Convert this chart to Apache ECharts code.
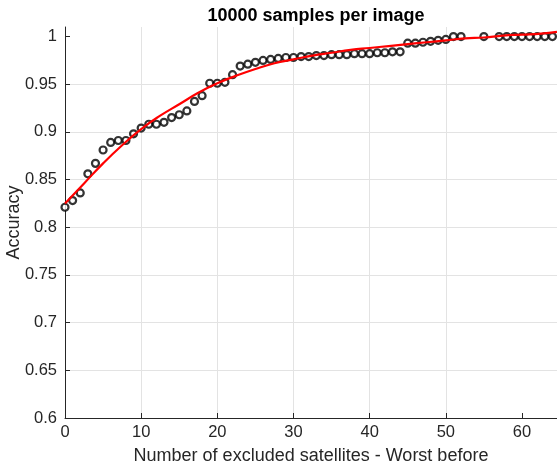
<!DOCTYPE html>
<html>
<head>
<meta charset="utf-8">
<script src="https://cdn.jsdelivr.net/npm/echarts@6/dist/echarts.min.js"></script>
<style>
  html, body { margin: 0; padding: 0; background: #fff; }
  #chart { width: 557px; height: 470px; }
</style>
</head>
<body>
<div id="chart"></div>
<script>
// measured accuracy per number of excluded satellites
var sampleX = [0, 1, 2, 3, 4, 5, 6, 7, 8, 9, 10, 11, 12, 13, 14, 15, 16, 17, 18, 19,
  20, 21, 22, 23, 24, 25, 26, 27, 28, 29, 30, 31, 32, 33, 34, 35, 36, 37, 38, 39,
  40, 41, 42, 43, 44, 45, 46, 47, 48, 49, 50, 51, 52, 55, 57, 58, 59, 60, 61, 62, 63, 64];
var accuracy = [0.821, 0.828, 0.836, 0.856, 0.867, 0.881, 0.889, 0.891, 0.891, 0.898,
  0.904, 0.908, 0.908, 0.910, 0.915, 0.918, 0.922, 0.932, 0.938, 0.951,
  0.951, 0.952, 0.960, 0.969, 0.971, 0.973, 0.975, 0.976, 0.977, 0.978,
  0.978, 0.979, 0.979, 0.980, 0.980, 0.981, 0.981, 0.981, 0.982, 0.982,
  0.982, 0.983, 0.983, 0.984, 0.984, 0.993, 0.993, 0.994, 0.995, 0.996,
  0.997, 1.000, 1.000, 1.000, 1.000, 1.000, 1.000, 1.000, 1.000, 1.000, 1.000, 1.000];

// fitted curve
var fitX = [0, 2.5, 5, 7.5, 10, 12.5, 15, 17.5, 20, 22.5, 25, 27.5, 30, 32.5, 35,
  37.5, 40, 42.5, 45, 47.5, 50, 52.5, 55, 57.5, 60, 62.5, 64.6];
var fitY = [0.825, 0.846, 0.867, 0.886, 0.903, 0.917, 0.929, 0.941, 0.951, 0.959,
  0.966, 0.972, 0.976, 0.980, 0.983, 0.986, 0.988, 0.990, 0.992, 0.994,
  0.996, 0.998, 0.999, 1.001, 1.002, 1.003, 1.005];

var xTicks = [0, 10, 20, 30, 40, 50, 60];
var yTicks = [0.6, 0.65, 0.7, 0.75, 0.8, 0.85, 0.9, 0.95, 1];

var chart = echarts.init(document.getElementById("chart"));
var font = "Liberation Sans, Arial, Helvetica, sans-serif";
var ink = "#262626";

chart.setOption({
  animation: false,
  backgroundColor: "#fff",
  title: {
    text: "10000 samples per image",
    left: 311,
    top: 2,
    textAlign: "center",
    textStyle: { fontFamily: font, fontSize: 18, fontWeight: "bold", color: "#000" }
  },
  grid: { left: 65, right: 0, top: 27, bottom: 52, outerBoundsMode: "none" },
  xAxis: {
    type: "value",
    min: 0,
    max: 64.6,
    interval: 10,
    name: "Number of excluded satellites - Worst before",
    nameLocation: "middle",
    nameGap: 29,
    nameTextStyle: { fontFamily: font, fontSize: 18, color: ink },
    axisLine: { lineStyle: { color: ink, width: 1 } },
    axisTick: { inside: true, length: 5, customValues: xTicks, lineStyle: { color: ink } },
    axisLabel: { customValues: xTicks, fontFamily: font, fontSize: 16.5, color: ink, margin: 6 },
    splitLine: { show: true, showMinLine: false, showMaxLine: false, lineStyle: { color: "#e3e3e3" } }
  },
  yAxis: {
    type: "value",
    min: 0.6,
    max: 1.01,
    interval: 0.05,
    name: "Accuracy",
    nameLocation: "middle",
    nameGap: 42,
    nameMoveOverlap: false,
    nameTextStyle: { fontFamily: font, fontSize: 18, color: ink },
    axisLine: { show: true, lineStyle: { color: ink, width: 1 } },
    axisTick: { show: true, inside: true, length: 5, customValues: yTicks, lineStyle: { color: ink } },
    axisLabel: { customValues: yTicks, fontFamily: font, fontSize: 16.5, color: ink, margin: 8 },
    splitLine: { show: true, showMinLine: false, showMaxLine: false, lineStyle: { color: "#e3e3e3" } }
  },
  series: [
    {
      type: "scatter",
      data: sampleX.map(function (x, i) { return [x, accuracy[i]]; }),
      symbol: "circle",
      symbolSize: 7,
      itemStyle: { color: "#fff", borderColor: "#000", borderWidth: 2.2 },
      z: 2
    },
    {
      type: "line",
      data: fitX.map(function (x, i) { return [x, fitY[i]]; }),
      smooth: true,
      showSymbol: false,
      lineStyle: { color: "#ff0000", width: 2.2 },
      z: 3
    }
  ]
});
</script>
</body>
</html>
